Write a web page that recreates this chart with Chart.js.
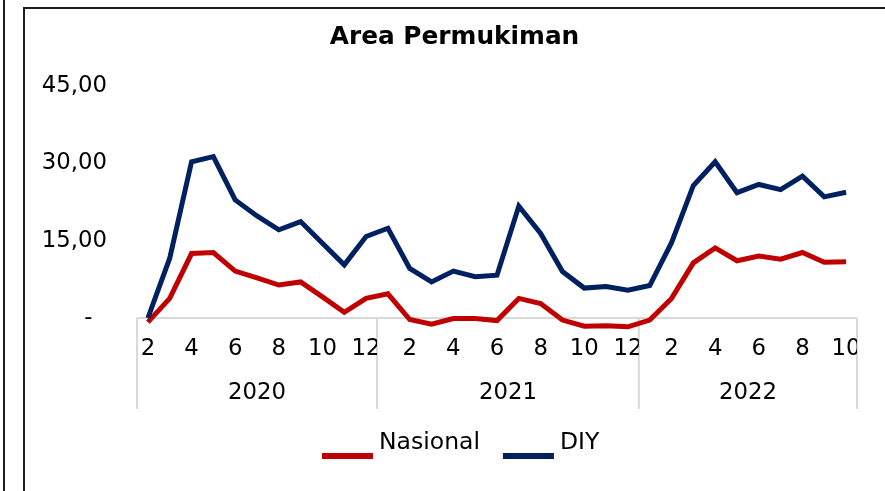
<!DOCTYPE html>
<html>
<head>
<meta charset="utf-8">
<title>Area Permukiman</title>
<script src="https://cdn.jsdelivr.net/npm/chart.js@4.4.1/dist/chart.umd.min.js"></script>
<style>
  html, body { margin: 0; padding: 0; background: #ffffff; }
  #wrap { width: 885px; height: 491px; position: relative; }
  canvas { display: block; }
</style>
</head>
<body>
<div id="wrap"><canvas id="chart" width="885" height="491"></canvas></div>
<script>
// Monthly categories, Feb 2020 – Oct 2022
const months = [
  '2','3','4','5','6','7','8','9','10','11','12',
  '1','2','3','4','5','6','7','8','9','10','11','12',
  '1','2','3','4','5','6','7','8','9','10'
];
const years = ['2020', '2021', '2022'];
const monthsPerYear = [11, 12, 10];

// Series values (%)
const nasional = [
  -0.8, 3.8, 12.5, 12.7, 9.1, 7.8, 6.4, 7.0, 4.1, 1.1, 3.8,
  4.7, -0.3, -1.2, -0.1, -0.1, -0.5, 3.8, 2.8, -0.4, -1.6, -1.5, -1.7,
  -0.4, 3.8, 10.7, 13.6, 11.1, 12.0, 11.4, 12.7, 10.8, 10.9
];
const diy = [
  0.0, 11.6, 30.3, 31.3, 22.9, 19.8, 17.1, 18.7, 14.5, 10.3, 15.8,
  17.4, 9.6, 7.0, 9.1, 8.0, 8.3, 21.7, 16.4, 9.0, 5.8, 6.1, 5.4,
  6.3, 14.6, 25.7, 30.3, 24.3, 25.9, 24.9, 27.5, 23.5, 24.4
];

const yTickValues = [0, 15, 30, 45];

const FONT = "'DejaVu Sans', Verdana, sans-serif";
const LABEL_SIZE = 22.8;
const AXIS_GREY = '#d9d9d9';

// Frame, category axis with month/year rows, and the bottom legend
const decorations = {
  id: 'decorations',
  beforeDraw(chart) {
    const ctx = chart.ctx;
    ctx.save();
    ctx.fillStyle = '#ffffff';
    ctx.fillRect(0, 0, chart.width, chart.height);
    ctx.fillStyle = '#1e1e1e';
    ctx.fillRect(3, 0, 2, chart.height);
    ctx.fillRect(23, 8, 2, chart.height - 8);
    ctx.fillRect(23, 7, chart.width - 23, 2);
    ctx.restore();
  },
  beforeDatasetsDraw(chart) {
    const ctx = chart.ctx;
    const x = chart.scales.x;
    const area = chart.chartArea;
    const half = (x.getPixelForValue(1) - x.getPixelForValue(0)) / 2;
    ctx.save();
    ctx.strokeStyle = AXIS_GREY;
    ctx.lineWidth = 2;
    ctx.beginPath();
    ctx.moveTo(area.left, area.bottom);
    ctx.lineTo(area.right, area.bottom);
    let idx = 0;
    const bounds = [x.getPixelForValue(0) - half];
    monthsPerYear.forEach(n => { idx += n; bounds.push(x.getPixelForValue(idx - 1) + half); });
    bounds.forEach(bx => {
      ctx.moveTo(bx, area.bottom);
      ctx.lineTo(bx, area.bottom + 91);
    });
    ctx.stroke();
    ctx.restore();
  },
  afterDraw(chart) {
    const ctx = chart.ctx;
    const x = chart.scales.x;
    const area = chart.chartArea;
    const half = (x.getPixelForValue(1) - x.getPixelForValue(0)) / 2;
    ctx.save();
    ctx.fillStyle = '#000000';
    ctx.font = LABEL_SIZE + 'px ' + FONT;
    ctx.textAlign = 'center';
    ctx.textBaseline = 'middle';
    let start = 0;
    years.forEach((yr, g) => {
      const n = monthsPerYear[g];
      const left = x.getPixelForValue(start) - half;
      const right = x.getPixelForValue(start + n - 1) + half;
      ctx.save();
      ctx.beginPath();
      ctx.rect(left, area.bottom, right - left, 60);
      ctx.clip();
      for (let i = start; i < start + n; i++) {
        if (i % 2 === 0) ctx.fillText(months[i], x.getPixelForValue(i), area.bottom + 31);
      }
      ctx.restore();
      ctx.fillText(yr, (left + right) / 2, area.bottom + 75);
      start += n;
    });

    // legend
    ctx.font = '23.5px ' + FONT;
    let lx = 322;
    const ly = 443;
    ctx.textAlign = 'left';
    chart.data.datasets.forEach(ds => {
      ctx.fillStyle = ds.borderColor;
      ctx.fillRect(lx, 453, 51, 6);
      ctx.fillStyle = '#000000';
      ctx.fillText(ds.label, lx + 57, ly);
      lx += 57 + ctx.measureText(ds.label).width + 23;
    });
    ctx.restore();
  }
};

new Chart(document.getElementById('chart'), {
  type: 'line',
  data: {
    labels: months,
    datasets: [
      {
        label: 'Nasional',
        data: nasional,
        borderColor: '#c00000',
        backgroundColor: '#c00000',
        borderWidth: 5,
        pointRadius: 0,
        tension: 0,
        clip: false,
        order: 1
      },
      {
        label: 'DIY',
        data: diy,
        borderColor: '#002060',
        backgroundColor: '#002060',
        borderWidth: 5,
        pointRadius: 0,
        tension: 0,
        clip: false,
        order: 0
      }
    ]
  },
  options: {
    responsive: false,
    animation: false,
    devicePixelRatio: 1,
    layout: { padding: { top: 8, left: 24, right: 0, bottom: 0 } },
    plugins: {
      legend: { display: false },
      tooltip: { enabled: false },
      title: {
        display: true,
        text: 'Area Permukiman',
        color: '#000000',
        font: { family: FONT, size: 24.8, weight: 'bold', lineHeight: 1.2 },
        padding: { top: 14.2, bottom: 34 }
      }
    },
    scales: {
      x: {
        type: 'category',
        offset: true,
        grid: { display: false, drawTicks: false },
        border: { display: false },
        ticks: { display: false },
        afterFit(scale) { scale.height = 173; }
      },
      y: {
        position: 'left',
        min: 0,
        max: 45,
        afterBuildTicks(scale) { scale.ticks = yTickValues.map(v => ({ value: v })); },
        grid: { display: false, drawTicks: false, tickLength: 0 },
        border: { display: false },
        ticks: {
          padding: 30,
          color: '#000000',
          font: { family: FONT, size: LABEL_SIZE },
          callback: v => v === 0 ? '-  ' : v.toFixed(2).replace('.', ',')
        },
        afterFit(scale) { scale.width = 113; }
      },
      yRight: {
        position: 'right',
        display: true,
        grid: { display: false, drawTicks: false, tickLength: 0 },
        border: { display: false },
        ticks: { display: false },
        afterFit(scale) { scale.width = 28; }
      }
    }
  },
  plugins: [decorations]
});
</script>
</body>
</html>
